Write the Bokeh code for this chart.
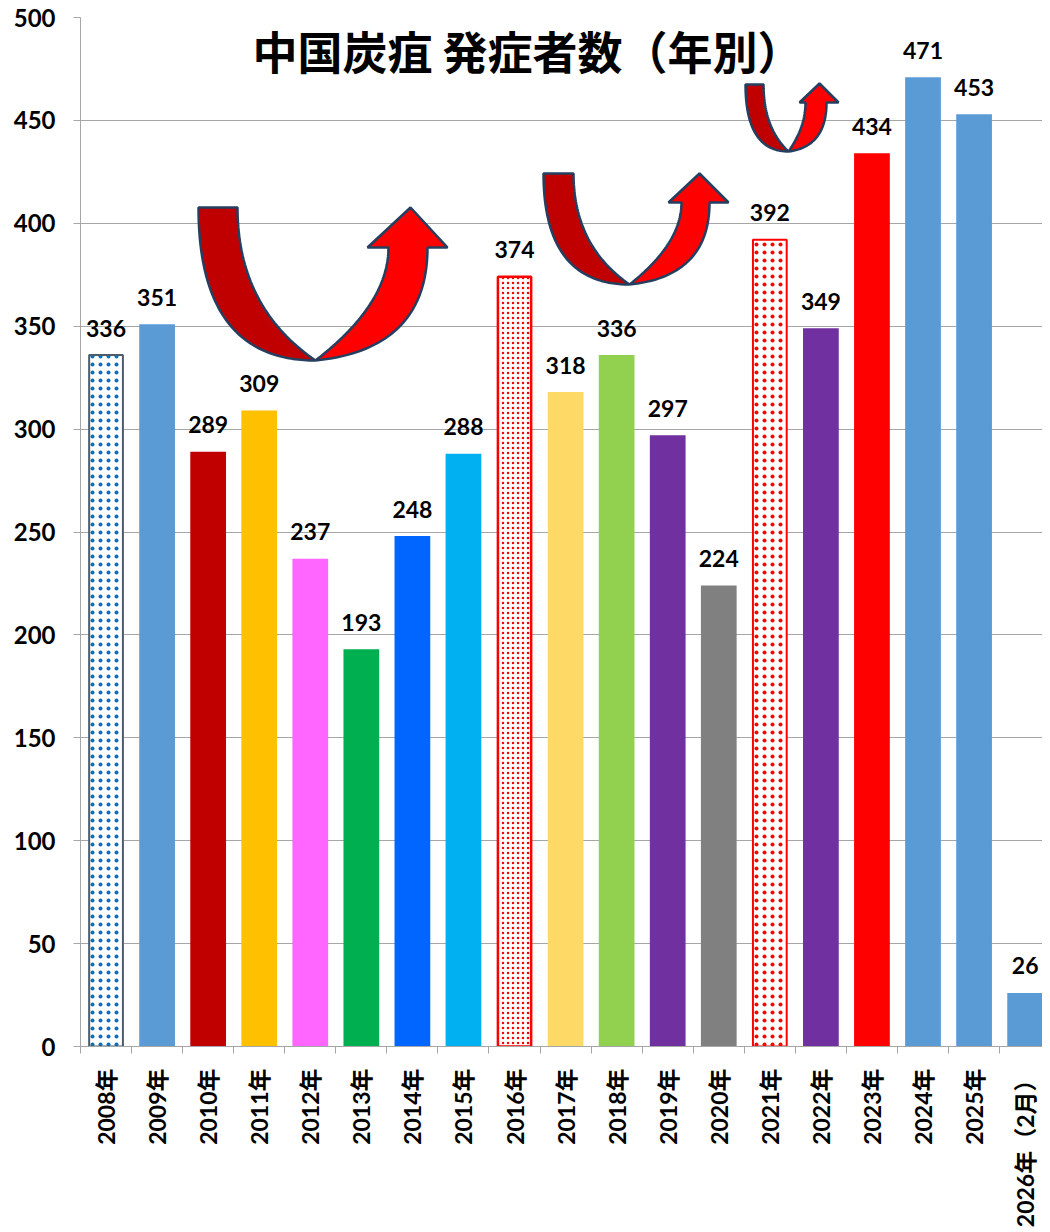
import numpy as np
from bokeh.plotting import figure
from bokeh.models import Range1d, FixedTicker
from bokeh.embed import file_html
from bokeh.resources import INLINE
from bokeh.core.properties import value

# ---------------- data ----------------
years = ["2008年", "2009年", "2010年", "2011年", "2012年", "2013年", "2014年",
         "2015年", "2016年", "2017年", "2018年", "2019年", "2020年", "2021年",
         "2022年", "2023年", "2024年", "2025年", "2026年（2月）"]
cases = [336, 351, 289, 309, 237, 193, 248, 288, 374, 318, 336, 297, 224,
         392, 349, 434, 471, 453, 26]
bar_colors = ["#FFFFFF", "#5B9BD5", "#C00000", "#FFC000", "#FF66FF", "#00B050",
              "#0066FF", "#00B0F0", "#FFFFFF", "#FFD966", "#92D050", "#7030A0",
              "#808080", "#FFFFFF", "#7030A0", "#FF0000", "#5B9BD5", "#5B9BD5",
              "#5B9BD5"]
# dotted (hatched) bars: index -> (dot colour, outline colour, dot spacing, dot weight, outline width)
dotted = {0: ("#0070C0", "#4D5B6B", 8, 2.0, 2),
          8: ("#FF0000", "#FF0000", 5, 2.5, 2.5),
          13: ("#FF0000", "#FF0000", 8, 1.2, 2)}
y_ticks = [0, 50, 100, 150, 200, 250, 300, 350, 400, 450, 500]
title_text = "中国炭疽 発症者数（年別）"

# decorative U-turn arrows, described in reference-picture pixels:
# top, left-outer x, left-inner x, bottom x, bottom y, head-base y,
# arm-inner x, arm-outer x, head-left x, head-right x, tip x, tip y
arrows = [
    (207, 198, 237, 315, 360, 247, 388, 427, 367, 447, 410, 207),
    (173, 543, 573, 629, 284, 202, 681, 709, 668, 728, 699, 173),
    (84, 745, 763, 788, 151, 102, 805, 826, 799, 838, 819, 83),
]

# mapping of reference pixels to data space
PX0, PX_PER_CAT = 80.0, 51.06
PY0, PY_PER_UNIT = 1046.0, 2.058


def to_data(px, py):
    return (np.asarray(px) - PX0) / PX_PER_CAT - 0.5, (PY0 - np.asarray(py)) / PY_PER_UNIT


def bez(p0, p1, p2, n=40):
    t = np.linspace(0, 1, n)[:, None]
    p0, p1, p2 = map(np.array, (p0, p1, p2))
    pts = (1 - t) ** 2 * p0 + 2 * t * (1 - t) * p1 + t ** 2 * p2
    return pts[:, 0], pts[:, 1]


p = figure(width=1042, height=1232, x_range=Range1d(-0.5, 18.34),
           y_range=Range1d(0, 500), output_backend="svg", toolbar_location=None,
           min_border_left=80, min_border_right=0, min_border_top=17,
           min_border_bottom=186)
p.outline_line_color = None
p.background_fill_color = "white"
p.border_fill_color = "white"

# grid
p.xgrid.visible = False
p.ygrid.grid_line_color = "#A6A6A6"
p.ygrid.grid_line_width = 1

# y axis
p.yaxis.ticker = FixedTicker(ticks=y_ticks, minor_ticks=[])
p.yaxis.axis_line_color = "#A6A6A6"
p.yaxis.major_tick_line_color = "#A6A6A6"
p.yaxis.major_tick_out = 7
p.yaxis.major_tick_in = 0
p.yaxis.minor_tick_line_color = None
p.yaxis.major_label_standoff = 18
p.yaxis.major_label_text_font = "Lato"
p.yaxis.major_label_text_font_style = "bold"
p.yaxis.major_label_text_font_size = "24px"
p.yaxis.major_label_text_color = "black"

# x axis
idx = list(range(len(years)))
p.xaxis.ticker = FixedTicker(ticks=idx, minor_ticks=[i - 0.5 for i in range(len(years) + 1)])
p.xaxis.major_label_overrides = {i: years[i] for i in idx}
p.xaxis.axis_line_color = "#A6A6A6"
p.xaxis.major_tick_line_color = None
p.xaxis.major_tick_out = 0
p.xaxis.major_tick_in = 0
p.xaxis.minor_tick_line_color = "#A6A6A6"
p.xaxis.minor_tick_out = 7
p.xaxis.minor_tick_in = 0
p.xaxis.major_label_orientation = np.pi / 2
p.xaxis.major_label_standoff = 15
p.xaxis.major_label_text_font = "Lato, 'Noto Sans CJK JP'"
p.xaxis.major_label_text_font_style = "bold"
p.xaxis.major_label_text_font_size = "23px"
p.xaxis.major_label_text_color = "black"

# solid bars
solid = [i for i in idx if i not in dotted]
p.vbar(x=[idx[i] for i in solid], top=[cases[i] for i in solid], width=0.7,
       fill_color=[bar_colors[i] for i in solid], line_color=None)

# dotted bars
for i, (dc, oc, sc, wt, lw) in dotted.items():
    p.vbar(x=[idx[i]], top=[cases[i]], width=0.7 - lw / PX_PER_CAT,
           fill_color=bar_colors[i], line_color=oc, line_width=lw,
           hatch_pattern="dot", hatch_color=dc, hatch_scale=sc, hatch_weight=wt)

# value labels
p.text(x=idx, y=cases, text=[str(v) for v in cases], text_align="center",
       text_baseline="middle", y_offset=-27, text_font=value("Lato"),
       text_font_style="bold", text_font_size="23px", text_color="black")

# arrows
for (top, lo, li, bx, by, hy, ai, ao, hl, hr, tx, ty) in arrows:
    ox, oy = bez((lo, top), (lo, by), (bx, by))
    ix, iy = bez((li, top), (li, by - 0.35 * (by - top)), (bx, by))
    lx = np.concatenate([ox, ix[::-1]])
    ly = np.concatenate([oy, iy[::-1]])
    dx, dy = to_data(lx, ly)
    p.patch(dx, dy, fill_color="#C00000", line_color="#243F60", line_width=2.5)

    rox, roy = bez((bx, by), (ao, by - 0.1 * (by - hy)), (ao, hy))
    rix, riy = bez((bx, by), (ai, by - 0.5 * (by - hy)), (ai, hy))
    rx = np.concatenate([rox, [hr, tx, hl], rix[::-1]])
    ry = np.concatenate([roy, [hy, ty, hy], riy[::-1]])
    dx, dy = to_data(rx, ry)
    p.patch(dx, dy, fill_color="#FF0000", line_color="#243F60", line_width=2.5)

# title inside the plot
tx_, ty_ = to_data([527], [50])
p.text(x=[float(tx_[0])], y=[float(ty_[0])], text=[title_text], text_align="center",
       text_baseline="middle", text_font=value("Noto Sans CJK JP"),
       text_font_style="bold", text_font_size="45px", text_color="black")

open("out.html", "w").write(file_html(p, INLINE))
